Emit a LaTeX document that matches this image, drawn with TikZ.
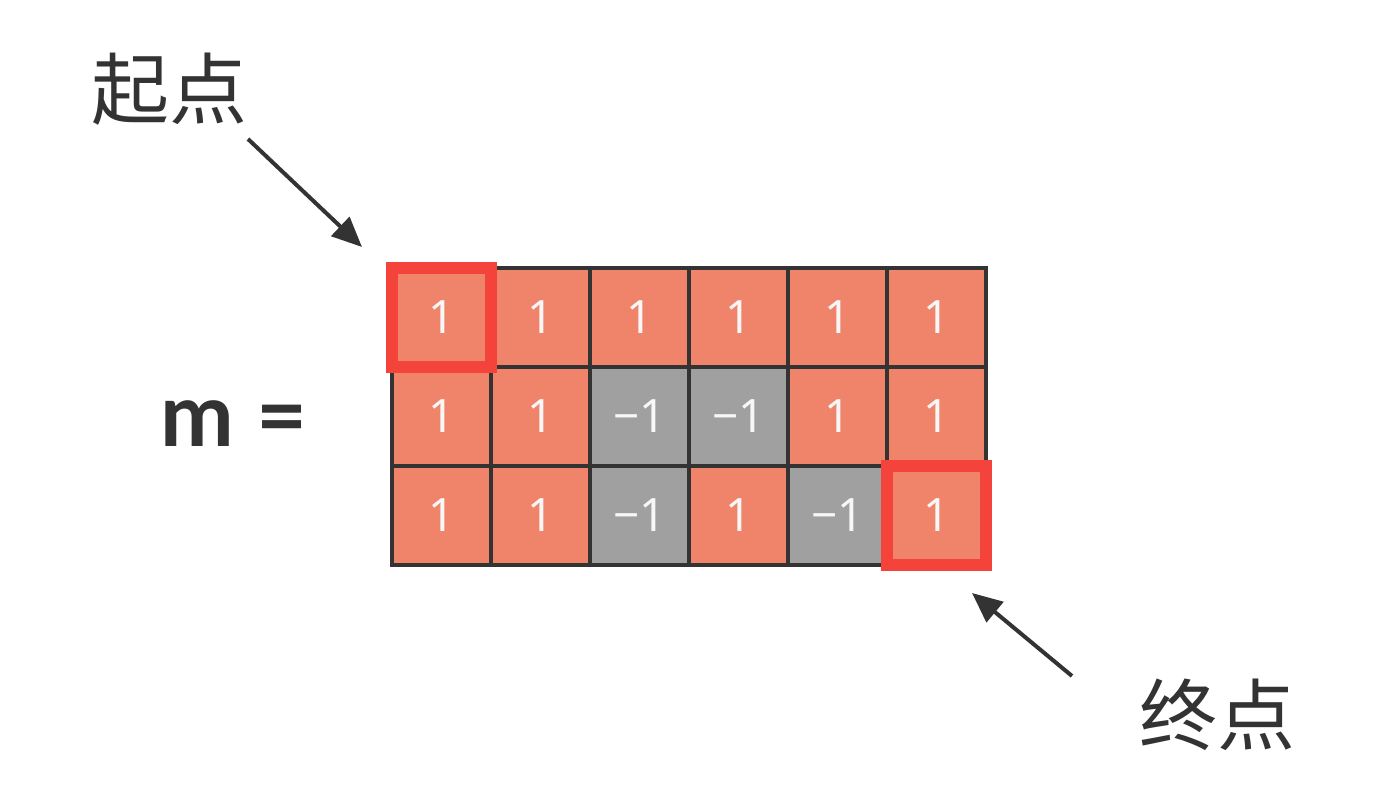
\documentclass[tikz,border=0pt]{standalone}
\usepackage{fontspec}
\setmainfont{Noto Sans}
\newfontfamily\cjk{Noto Sans CJK SC}
\newfontfamily\eqfont{Lato}
\usetikzlibrary{arrows.meta}
\definecolor{cellred}{HTML}{F0846A}
\definecolor{cellgray}{HTML}{A0A0A0}
\definecolor{markred}{HTML}{F4433A}
\definecolor{ink}{HTML}{333333}
\definecolor{digit}{HTML}{F7F7F7}
\begin{document}
\begin{tikzpicture} [
  x=1pt, y=-1pt,
  cell 1/.style= {rectangle,draw=ink,line width=4pt,fill=cellred,minimum size=99pt,inner sep=0,outer sep=0,text=digit,font=\fontsize{46}{46}\selectfont},
  cell -1/.style= {cell 1,fill=cellgray},
  marked/.style= {draw=markred,line width=12pt},
  tag/.style= {text=ink,font=\cjk\fontsize{78}{78}\selectfont},
  pointer/.style= {-{Triangle[length=30pt,width=26pt]},line width=4pt,draw=ink},
]
\useasboundingbox (0,0) rectangle (1388,806);
\foreach \row [count=\r] in {{1,1,1,1,1,1},{1,1,-1,-1,1,1},{1,1,-1,1,-1,1}}
  \foreach \v [count=\c] in \row
    \node (c\r\c) [cell \v] at ({392+99*(\c-0.5)},{268+99*(\r-0.5)}) {\ifnum\v<0 \char"2212 1\else\v\fi};
\draw [marked] (c11.north west) rectangle (c11.south east);
\draw [marked] (c36.north west) rectangle (c36.south east);
\node (m) [text=ink,font=\eqfont\bfseries\fontsize{88}{88}\selectfont] at (234,424) {m =};
\node (start) [tag] at (169,89) {起点};
\node (end) [tag] at (1217,715) {终点};
\coordinate (start tail) at (248,139);
\coordinate (start tip) at (362,247);
\coordinate (end tail) at (1072,676);
\coordinate (end tip) at (972,593);
\draw [pointer] (start tail) -- (start tip);
\draw [pointer] (end tail) -- (end tip);
\end{tikzpicture}
\end{document}
